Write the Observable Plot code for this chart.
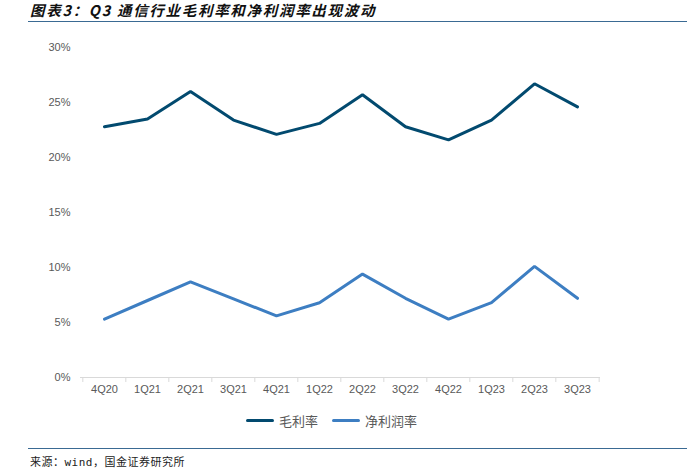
<!DOCTYPE html>
<html><head><meta charset="utf-8">
<script src="https://cdn.jsdelivr.net/npm/d3@7"></script>
<script src="https://cdn.jsdelivr.net/npm/@observablehq/plot@0.6"></script>
<style>
html,body{margin:0;padding:0;background:#fff;}
#wrap{position:relative;width:687px;height:470px;overflow:hidden;font-family:"Noto Sans CJK SC","Noto Sans",sans-serif;}
#title{position:absolute;left:30px;top:2px;font-size:14.5px;font-weight:bold;font-style:italic;color:#111;letter-spacing:1.7px;line-height:16px;white-space:nowrap;}
#tline{position:absolute;left:28px;right:0;top:21px;height:0;border-top:1.5px solid #3a6a93;}
#chart{position:absolute;left:0;top:0;}
#legend{position:absolute;left:0;width:687px;top:411px;display:flex;justify-content:center;gap:14px;font-size:13px;color:#595959;padding-right:24px;box-sizing:border-box;}
#legend span.it{display:flex;align-items:center;}
#legend i{display:inline-block;width:28px;height:3px;border-radius:2px;margin-right:5px;}
#bline{position:absolute;left:28px;right:0;top:448px;height:0;border-top:1.5px solid #3a6a93;}
#source{position:absolute;left:30px;top:455px;font-size:11px;color:#222;line-height:16px;letter-spacing:0.5px;font-family:"DejaVu Sans Mono","Noto Sans CJK SC",monospace;}
</style></head>
<body><div id="wrap">
<div id="title">图表3：Q3 通信行业毛利率和净利润率出现波动</div>
<div id="tline"></div>
<div id="chart"></div>
<div id="legend"></div>
<div id="bline"></div>
<div id="source">来源：wind，国金证券研究所</div>
</div>
<script>
const quarters = ["4Q20","1Q21","2Q21","3Q21","4Q21","1Q22","2Q22","3Q22","4Q22","1Q23","2Q23","3Q23"];
const grossMargin = [22.8,23.5,26.0,23.4,22.1,23.1,25.7,22.8,21.6,23.4,26.7,24.6];
const netMargin = [5.3,7.0,8.7,7.15,5.6,6.8,9.4,7.2,5.3,6.8,10.1,7.2];
const seriesNames = ["毛利率","净利润率"];
const seriesColors = ["#024a6f","#3d7ec2"];
const yTicks = [0,5,10,15,20,25,30];

const rows = [];
quarters.forEach((q,i)=>{
  rows.push({q, s: seriesNames[0], v: grossMargin[i]});
  rows.push({q, s: seriesNames[1], v: netMargin[i]});
});

const W = 687, H = 440, ML = 80, MR = 87, MT = 47, MB = 63;
const step = (W - ML - MR) / quarters.length;

const plot = Plot.plot({
  width: W, height: H,
  marginLeft: ML, marginRight: MR, marginTop: MT, marginBottom: MB,
  style: {fontFamily: "Liberation Sans, Arial, sans-serif", fontSize: "11px", color: "#595959", background: "transparent"},
  x: {type: "point", domain: quarters, padding: 0.5, label: null},
  y: {domain: [0,30], label: null},
  color: {domain: seriesNames, range: seriesColors},
  marks: [
    Plot.axisY({ticks: yTicks, tickSize: 0, tickPadding: 10, tickFormat: d => d + "%", fill: "#595959"}),
    Plot.axisX({tickSize: 0, tickPadding: 8, fill: "#595959"}),
    Plot.ruleY([0], {stroke: "#d9d9d9", strokeWidth: 1}),
    Plot.ruleX(quarters, {x: d => d, y1: 0, y2: 0, dx: -step/2, insetBottom: -5, stroke: "#d9d9d9"}),
    Plot.ruleX([quarters[quarters.length-1]], {x: d => d, y1: 0, y2: 0, dx: step/2, insetBottom: -5, stroke: "#d9d9d9"}),
    Plot.line(rows, {x: "q", y: "v", stroke: "s", z: "s", strokeWidth: 3, strokeLinejoin: "miter", strokeLinecap: "round"})
  ]
});
document.getElementById("chart").appendChild(plot);

const lg = document.getElementById("legend");
seriesNames.forEach((n,i)=>{
  const s = document.createElement("span"); s.className = "it";
  const sw = document.createElement("i"); sw.style.background = seriesColors[i];
  s.appendChild(sw); s.appendChild(document.createTextNode(n));
  lg.appendChild(s);
});
</script>
</body></html>
